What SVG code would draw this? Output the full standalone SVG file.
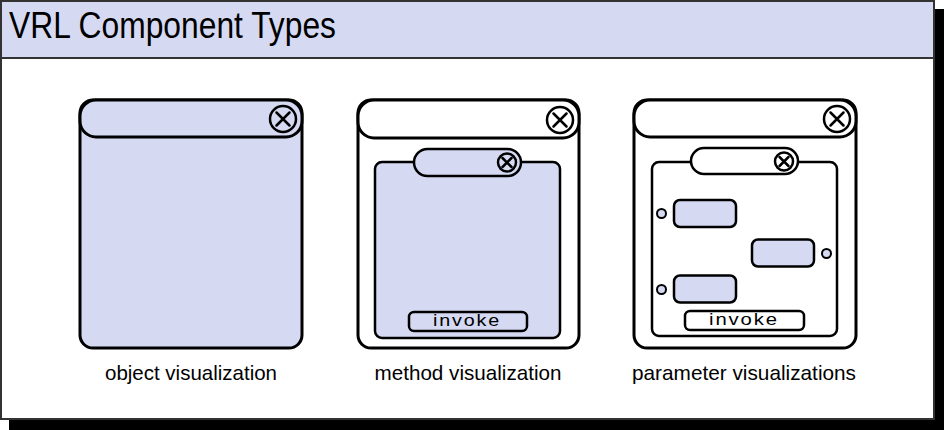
<svg xmlns="http://www.w3.org/2000/svg" width="944" height="430" viewBox="0 0 944 430">
<style>
.lav{fill:#D5DAF2}
.wht{fill:#FFFFFF}
.win{stroke:#000;stroke-width:3}
.thin{stroke:#000;stroke-width:2.5}
.cls{fill:#FFFFFF;stroke:#000;stroke-width:2.5}
.x{stroke:#000;stroke-width:2.5;stroke-linecap:round}
.lbl{font-family:"Liberation Sans",Arial,sans-serif;font-size:21px;fill:#000;text-anchor:middle}
.btn{font-family:"Liberation Sans",Arial,sans-serif;font-size:16px;letter-spacing:1.5px;fill:#000;text-anchor:middle}
.port{fill:#D5DAF2;stroke:#000;stroke-width:2}
</style>
<g id="frame">
<rect x="9" y="9" width="935" height="421" fill="#000"/>
<rect x="1" y="1" width="933" height="418" fill="#FFFFFF" stroke="#333" stroke-width="2"/>
<rect x="1" y="1" width="933" height="57" class="lav" stroke="#333" stroke-width="2"/>
<text x="9" y="38" font-family="'Liberation Sans',Arial,sans-serif" font-size="36" textLength="327" lengthAdjust="spacingAndGlyphs" fill="#000">VRL Component Types</text>
</g>
<g id="object-visualization">
<rect x="80" y="100" width="222" height="248" rx="13" class="lav win"/>
<rect x="80" y="100" width="222" height="37" rx="16" class="lav win"/>
<circle cx="283" cy="119" r="13" class="lav" stroke="#000" stroke-width="2.5"/>
<path d="M276.5 112.5L289.5 125.5M289.5 112.5L276.5 125.5" class="x"/>
<text x="191" y="380" class="lbl" textLength="172" lengthAdjust="spacingAndGlyphs">object visualization</text>
</g>
<g id="method-visualization">
<rect x="358" y="100" width="221" height="248" rx="13" class="wht win"/>
<rect x="358" y="100" width="221" height="38" rx="16" class="wht win"/>
<circle cx="560" cy="120" r="13" class="cls"/>
<path d="M553.5 113.5L566.5 126.5M566.5 113.5L553.5 126.5" class="x"/>
<rect x="375" y="162" width="185" height="176" rx="7" class="lav thin"/>
<rect x="414" y="149" width="107" height="27" rx="13.5" class="lav thin"/>
<circle cx="507" cy="162.5" r="9" class="lav" stroke="#000" stroke-width="2.5"/>
<path d="M502.5 158L511.5 167M511.5 158L502.5 167" class="x"/>
<rect x="409" y="312" width="118" height="19" rx="5" class="lav thin"/>
<text x="467" y="326" class="btn" textLength="68" lengthAdjust="spacingAndGlyphs">invoke</text>
<text x="468" y="380" class="lbl" textLength="187" lengthAdjust="spacingAndGlyphs">method visualization</text>
</g>
<g id="parameter-visualizations">
<rect x="634" y="100" width="222" height="248" rx="13" class="wht win"/>
<rect x="634" y="100" width="222" height="37" rx="16" class="wht win"/>
<circle cx="837" cy="119" r="13" class="cls"/>
<path d="M830.5 112.5L843.5 125.5M843.5 112.5L830.5 125.5" class="x"/>
<rect x="652" y="162" width="185" height="174" rx="7" class="wht thin"/>
<rect x="691" y="148" width="107" height="26" rx="13" class="wht thin"/>
<circle cx="784" cy="161.5" r="9" class="cls"/>
<path d="M779.5 157L788.5 166M788.5 157L779.5 166" class="x"/>
<g id="param-1">
<rect x="674" y="200" width="62" height="27" rx="6" class="lav thin"/>
<circle cx="661.5" cy="213.5" r="4.5" class="port"/>
</g>
<g id="param-2">
<rect x="752" y="239.5" width="62" height="27" rx="6" class="lav thin"/>
<circle cx="826.5" cy="253.5" r="4.5" class="port"/>
</g>
<g id="param-3">
<rect x="674" y="275.5" width="62" height="27" rx="6" class="lav thin"/>
<circle cx="661.5" cy="289.5" r="4.5" class="port"/>
</g>
<rect x="685" y="311" width="119" height="19" rx="5" class="wht thin"/>
<text x="744" y="325" class="btn" textLength="70" lengthAdjust="spacingAndGlyphs">invoke</text>
<text x="744" y="380" class="lbl" textLength="224" lengthAdjust="spacingAndGlyphs">parameter visualizations</text>
</g>
</svg>
